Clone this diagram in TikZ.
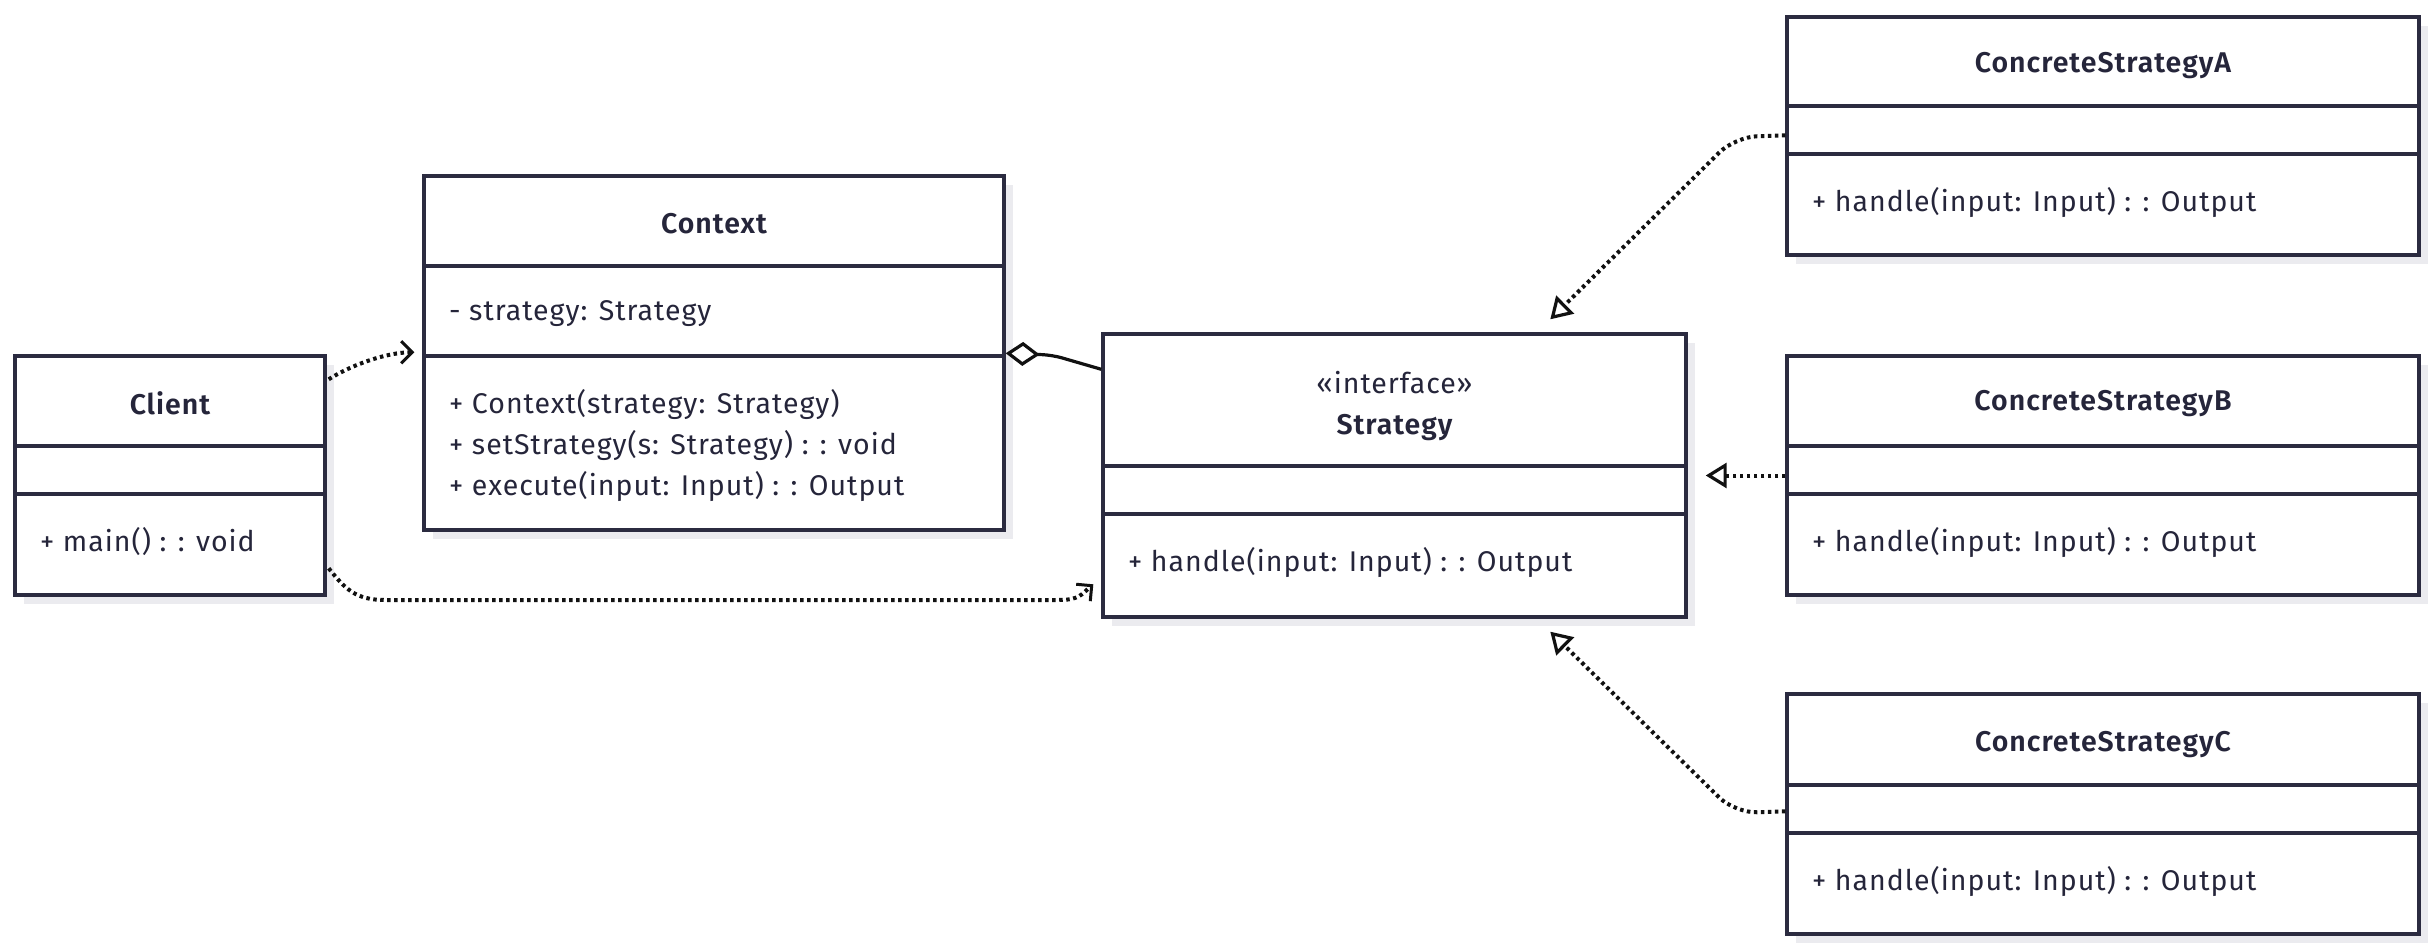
\documentclass[tikz,border=0pt]{standalone}
\usepackage{fontspec}
\setmainfont[LetterSpace=3.5,BoldFont={Fira Sans SemiBold}]{Fira Sans}
\usetikzlibrary{arrows.meta,fit,calc}
\definecolor{linec}{HTML}{2B2B40}
\definecolor{textc}{HTML}{25253A}
\definecolor{shadowc}{HTML}{EBEBEF}
\definecolor{connc}{HTML}{111111}
\tikzset{
  cls/.style={draw=linec, line width=3.4pt, fill=white, rectangle, inner sep=0pt},
  divider/.style={draw=linec, line width=3.4pt},
  clstitle/.style={font=\bfseries\fontsize{28.5}{32}\selectfont, text=textc, inner sep=0pt},
  stereo/.style={font=\fontsize{28.5}{32}\selectfont, text=textc, inner sep=0pt},
  member/.style={font=\fontsize{28.5}{32}\selectfont, text=textc, anchor=west, inner sep=0pt},
  conn/.style={draw=connc, line width=4pt},
  dotline/.style={conn, dash pattern=on 3.5pt off 3.5pt},
  dep/.style={dotline, -{Straight Barb[length=11pt,width=22pt,line width=3pt]}},
  realize/.style={dotline, rounded corners=22pt, -{Triangle[open,length=21pt,width=25pt,fill=white,line width=3.2pt]}},
  agg/.style={conn, line width=3.2pt, rounded corners=10pt, {Diamond[open,length=34pt,width=24pt,fill=white,line width=3.2pt]}-},
}
% \umlbox{name}{x1}{y1}{x2}{y2}{div1}{div2}
\newcommand\umlbox[7]{%
  \fill[shadowc] (#2+9,#3+9) rectangle (#4+9,#5+9);
  \node[cls, fit={(#2,#3) (#4,#5)}] (#1) {};
  \draw[divider] (#2,#6) -- (#4,#6);
  \draw[divider] (#2,#7) -- (#4,#7);
}
\begin{document}
\begin{tikzpicture}[x=1pt,y=-1pt]
\useasboundingbox (0,0) rectangle (2436,952);

% Client
\umlbox{client}{15}{356}{325}{595}{446}{494}
\node[clstitle] (clientT) at (170,403) {Client};
\node[member] (clientM) at (40,542) {+ main() : : void};

% Context
\umlbox{context}{424}{176}{1004}{530}{266}{356}
\node[clstitle] (contextT) at (714,224) {Context};
\node[member] (contextA) at (449,314) {- strategy: Strategy};
\node[member] (contextM1) at (449,404) {+ Context(strategy: Strategy)};
\node[member] (contextM2) at (449,445) {+ setStrategy(s: Strategy) : : void};
\node[member] (contextM3) at (449,486) {+ execute(input: Input) : : Output};

% Strategy
\umlbox{strategy}{1103}{334}{1686}{617}{466}{514}
\node[stereo] (strategyS) at (1394.5,383) {«interface»};
\node[clstitle] (strategyT) at (1394.5,428) {Strategy};
\node[member] (strategyM) at (1128,562) {+ handle(input: Input) : : Output};

% ConcreteStrategyA
\umlbox{csa}{1787}{17}{2419}{255}{106}{154}
\node[clstitle] (csaT) at (2103,66) {ConcreteStrategyA};
\node[member] (csaM) at (1812,202) {+ handle(input: Input) : : Output};

% ConcreteStrategyB
\umlbox{csb}{1787}{356}{2419}{595}{446}{494}
\node[clstitle] (csbT) at (2103,404) {ConcreteStrategyB};
\node[member] (csbM) at (1812,542) {+ handle(input: Input) : : Output};

% ConcreteStrategyC
\umlbox{csc}{1787}{694}{2419}{934}{785}{833}
\node[clstitle] (cscT) at (2103,745) {ConcreteStrategyC};
\node[member] (cscM) at (1812,881) {+ handle(input: Input) : : Output};

% Connectors
\draw[dep] ([xshift=2pt,yshift=-25pt]client.north east)
  .. controls +(22,-14) and +(-28,0) .. ([xshift=-8pt,yshift=-178pt]context.north west);
\draw[dep] ([xshift=2pt,yshift=-214pt]client.north east)
  .. controls +(16,20) and +(-30,0) .. (385,600) -- (1058,600)
  .. controls +(22,0) and +(-12,10) .. ([xshift=-8pt,yshift=-252pt]strategy.north west);
\draw[agg] ([yshift=-179pt]context.north east) -- (1052,355) -- ([yshift=-37pt]strategy.north west);
\draw[realize] ([yshift=-120pt]csa.north west) -- (1735,137) -- ([xshift=449pt,yshift=13pt]strategy.north west);
\draw[realize] (csb.west) -- ([xshift=18pt]strategy.east);
\draw[realize] ([yshift=-119pt]csc.north west) -- (1735,813) -- ([xshift=449pt,yshift=-13pt]strategy.south west);
\end{tikzpicture}
\end{document}
